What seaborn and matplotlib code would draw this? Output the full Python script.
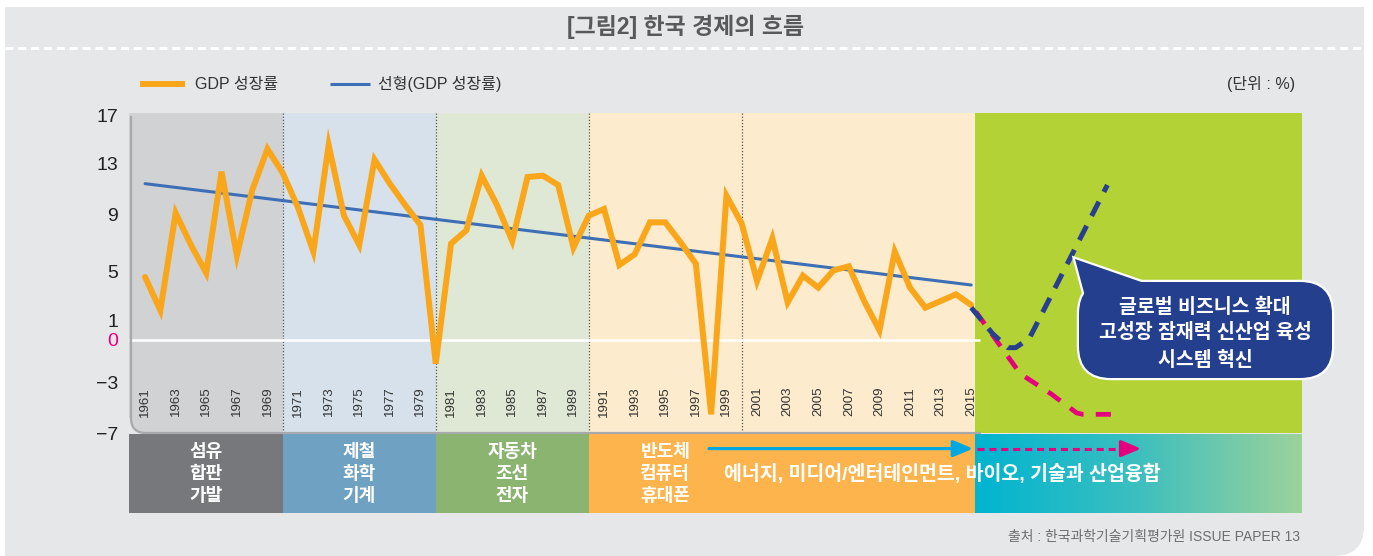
import numpy as np
import matplotlib
matplotlib.use("Agg")
import matplotlib.pyplot as plt
import seaborn as sns
from matplotlib.patches import PathPatch, FancyBboxPatch, Polygon
from matplotlib.path import Path
from matplotlib.lines import Line2D
import matplotlib.transforms as mtransforms
from matplotlib.colors import LinearSegmentedColormap

# ---------------- data ----------------
years = list(range(1961, 2016))
gdp_growth = [4.7, 2.2, 9.5, 7.1, 5.0, 12.6, 6.3, 11.2, 14.3, 12.5,
              9.9, 6.6, 14.6, 9.3, 7.1, 13.5, 11.7, 10.1, 8.6, -1.8,
              7.2, 8.2, 12.3, 10.1, 7.4, 12.2, 12.3, 11.6, 6.9, 9.3,
              9.8, 5.6, 6.4, 8.8, 8.8, 7.3, 5.7, -5.6, 10.8, 8.7,
              4.4, 7.6, 2.8, 4.8, 3.9, 5.2, 5.5, 2.9, 0.7, 6.6,
              3.9, 2.4, 2.9, 3.4, 2.6]
trend_years = [1961, 2015]
trend_values = [11.7, 4.1]
high_path_years = [2015.0, 2016.4, 2017.4, 2017.9, 2018.8, 2023.9]
high_path_values = [2.4, 0.45, -0.6, -0.6, 0.1, 11.6]
low_path_years = [2015.3, 2018.2, 2020.2, 2021.9, 2022.3, 2024.2]
low_path_values = [2.1, -2.55, -4.05, -5.5, -5.6, -5.6]

ytick_values = [17, 13, 9, 5, 1, 0, -3, -7]
ytick_labels = ["17", "13", "9", "5", "1", "0", "\u22123", "\u22127"]
year_labels = years[::2]

era_bounds = [1959.95, 1970, 1980, 1990, 2015.25, 2036.62]
era_bg_colors = ["#d1d2d4", "#d6e1eb", "#dfe8d5", "#fdebcd", "#b2d235"]
divider_years = [1970, 1980, 1990, 2000]
band_colors = ["#77787b", "#6fa1c2", "#8ab46f", "#fdb44d"]
industry_centers = [1965, 1975, 1985, 1995]
industry_labels = [["섬유", "합판", "가발"], ["제철", "화학", "기계"],
                   ["자동차", "조선", "전자"], ["반도체", "컴퓨터", "휴대폰"]]
future_text = "에너지, 미디어/엔터테인먼트, 바이오, 기술과 산업융합"
callout_lines = ["글로벌 비즈니스 확대", "고성장 잠재력 신산업 육성", "시스템 혁신"]

# ---------------- style ----------------
sns.set_theme(style="white")
plt.rcParams['font.family'] = ['Liberation Sans', 'Noto Sans CJK KR']
plt.rcParams['axes.unicode_minus'] = True

W, H = 1373, 556
fig = plt.figure(figsize=(W / 100, H / 100), dpi=100)
fig.patch.set_facecolor("white")
px = mtransforms.Affine2D().scale(1 / W, -1 / H).translate(0, 1) + fig.transFigure

PANEL = "#e6e7e8"
pv = [(5, 7), (1364, 7), (1364, 526), (1364, 556), (1334, 556), (5, 556), (5, 7)]
pc = [Path.MOVETO, Path.LINETO, Path.LINETO, Path.CURVE3, Path.CURVE3, Path.LINETO, Path.CLOSEPOLY]
fig.add_artist(PathPatch(Path(pv, pc), facecolor=PANEL, edgecolor="none", transform=px, zorder=-2))

fig.text(686 / W, 1 - 27 / H, "[그림2] 한국 경제의 흐름", ha="center", va="center",
         fontsize=16.5, fontweight="bold", color="#58595b")
fig.add_artist(Line2D([5, 1364], [48, 48], transform=px, color="white", lw=2.2,
                      linestyle=(0, (2.6, 1.6)), zorder=-1))

fig.add_artist(Line2D([140, 185], [84, 84], transform=px, color="#f9a61a", lw=4.3, solid_capstyle="butt"))
fig.text(195 / W, 1 - 84 / H, "GDP 성장률", ha="left", va="center", fontsize=11.5, color="#333333")
fig.add_artist(Line2D([330, 370], [84, 84], transform=px, color="#3c6fb6", lw=2.2, solid_capstyle="butt"))
fig.text(378 / W, 1 - 84 / H, "선형(GDP 성장률)", ha="left", va="center", fontsize=11.5, color="#333333")
fig.text(1295 / W, 1 - 84 / H, "(단위 : %)", ha="right", va="center", fontsize=11.5, color="#333333")

# ---------------- main axes ----------------
ax = fig.add_axes([129 / W, (H - 433) / H, (1302 - 129) / W, 320 / H])
ax.set_facecolor("none")
for i in range(len(era_bg_colors)):
    ax.axvspan(era_bounds[i], era_bounds[i + 1], color=era_bg_colors[i], lw=0, zorder=0)
for d in divider_years:
    ax.axvline(d, color="#555555", lw=0.9, linestyle=(0, (1, 1.5)), zorder=1)
ax.hlines(0, era_bounds[0], 2015.6, color="white", lw=1.8, zorder=1)

sns.lineplot(x=trend_years, y=trend_values, color="#3c6fb6", lw=2.2, ax=ax, zorder=3)
sns.lineplot(x=years, y=gdp_growth, color="#f9a61a", lw=4.3, ax=ax, zorder=4,
             solid_joinstyle="miter")
sns.lineplot(x=low_path_years, y=low_path_values, color="#e5007e", lw=3.4, ax=ax, zorder=5,
             sort=False, estimator=None, linestyle=(0, (3.2, 2.6)))
sns.lineplot(x=high_path_years, y=high_path_values, color="#283f8f", lw=3.6, ax=ax, zorder=6,
             sort=False, estimator=None, linestyle=(0, (3.2, 2.2)))

for y in year_labels:
    ax.text(y, -4.65, str(y), rotation=90, ha="center", va="center", fontsize=9.5,
            color="#333333", zorder=3)

ax.set_xlim(era_bounds[0], era_bounds[-1])
ax.set_ylim(-7, 17)
ax.set_xticks([])
ax.set_yticks(ytick_values)
ax.set_yticklabels(ytick_labels, fontsize=14, color="#222222")
ax.get_yticklabels()[ytick_values.index(0)].set_color("#e4007f")
ax.tick_params(axis="y", length=0, pad=8)
# small vertical nudges of tick labels (pixels, + = up) as in the reference layout
label_nudges = [-2, 3, 5, 2, 6, 0, -3, 0]
for lab, dy in zip(ax.get_yticklabels(), label_nudges):
    lab.set_transform(lab.get_transform() +
                      mtransforms.ScaledTranslation(0, dy / 100, fig.dpi_scale_trans))
ax.set_xlabel("")
ax.set_ylabel("")
for s in ax.spines.values():
    s.set_visible(False)

cv = [(127, 418), (131, 418), (131, 433), (146, 433), (146, 434), (127, 434), (127, 418)]
cc = [Path.MOVETO, Path.LINETO, Path.CURVE3, Path.CURVE3, Path.LINETO, Path.LINETO, Path.CLOSEPOLY]
fig.add_artist(PathPatch(Path(cv, cc), facecolor=PANEL, edgecolor="none", transform=px, zorder=5))
bv = [(131, 116), (131, 418), (131, 433), (146, 433), (981, 433)]
bc = [Path.MOVETO, Path.LINETO, Path.CURVE3, Path.CURVE3, Path.LINETO]
fig.add_artist(PathPatch(Path(bv, bc), facecolor="none", edgecolor="#a7a9ac", lw=1.6,
                         transform=px, zorder=6))

# ---------------- industry band ----------------
bx = fig.add_axes([129 / W, (H - 513) / H, (1302 - 129) / W, 79 / H])
for i in range(len(band_colors)):
    bx.axvspan(era_bounds[i], era_bounds[i + 1], color=band_colors[i], lw=0, zorder=0)
grad = LinearSegmentedColormap.from_list("g", ["#00b4d1", "#3dbfbf", "#9cd29b"])
bx.imshow(np.linspace(0, 1, 256)[None, :], extent=[era_bounds[4], era_bounds[5], 0, 1],
          aspect="auto", cmap=grad, zorder=0)
bx.set_xlim(era_bounds[0], era_bounds[-1])
bx.set_ylim(0, 1)
bx.axis("off")

line_y = [0.77, 0.49, 0.21]
for cx, labs in zip(industry_centers, industry_labels):
    for ly, t in zip(line_y, labs):
        bx.text(cx, ly, t, ha="center", va="center", fontsize=13, fontweight="bold", color="white")
bx.text(1998.85, 0.49, future_text, ha="left", va="center", fontsize=14, fontweight="bold",
        color="white")

arrow_y = 0.815
bx.annotate("", xy=(2015.12, arrow_y), xytext=(1997.86, arrow_y),
            arrowprops=dict(arrowstyle="-|>,head_length=0.6,head_width=0.25", color="#00a8e1",
                            lw=2.3, mutation_scale=20, shrinkA=0, shrinkB=0))
bx.plot([2015.4, 2025.1], [arrow_y, arrow_y], color="#e5007e", lw=2.2,
        linestyle=(0, (2.3, 1.6)), solid_capstyle="butt")
bx.annotate("", xy=(2026.1, arrow_y), xytext=(2024.9, arrow_y),
            arrowprops=dict(arrowstyle="-|>,head_length=0.6,head_width=0.25", color="#e5007e",
                            lw=2.2, mutation_scale=20, shrinkA=0, shrinkB=0))

# ---------------- callout ----------------
NAVY = "#253f8f"
box_kw = dict(boxstyle="round,pad=0,rounding_size=32")
tri = [(1075, 259), (1086, 300), (1150, 285)]
fig.add_artist(FancyBboxPatch((1079, 282), 253, 96, transform=px, facecolor=NAVY,
                              edgecolor="white", lw=3.2, zorder=10, **box_kw))
fig.add_artist(Polygon(tri, closed=True, transform=px, facecolor=NAVY, edgecolor="white",
                       lw=3.2, joinstyle="miter", zorder=10))
fig.add_artist(FancyBboxPatch((1079, 282), 253, 96, transform=px, facecolor=NAVY,
                              edgecolor="none", zorder=11, **box_kw))
fig.add_artist(Polygon(tri, closed=True, transform=px, facecolor=NAVY, edgecolor="none", zorder=11))
for ty, t in zip([307, 333, 360], callout_lines):
    fig.text(1205 / W, 1 - ty / H, t, ha="center", va="center", fontsize=14,
             fontweight="bold", color="white", zorder=12)

fig.text(1300 / W, 1 - 537 / H, "출처 : 한국과학기술기획평가원 ISSUE PAPER 13", ha="right",
         va="center", fontsize=10, color="#6d6e71")

fig.savefig("out.png", dpi=100, facecolor=fig.get_facecolor())
